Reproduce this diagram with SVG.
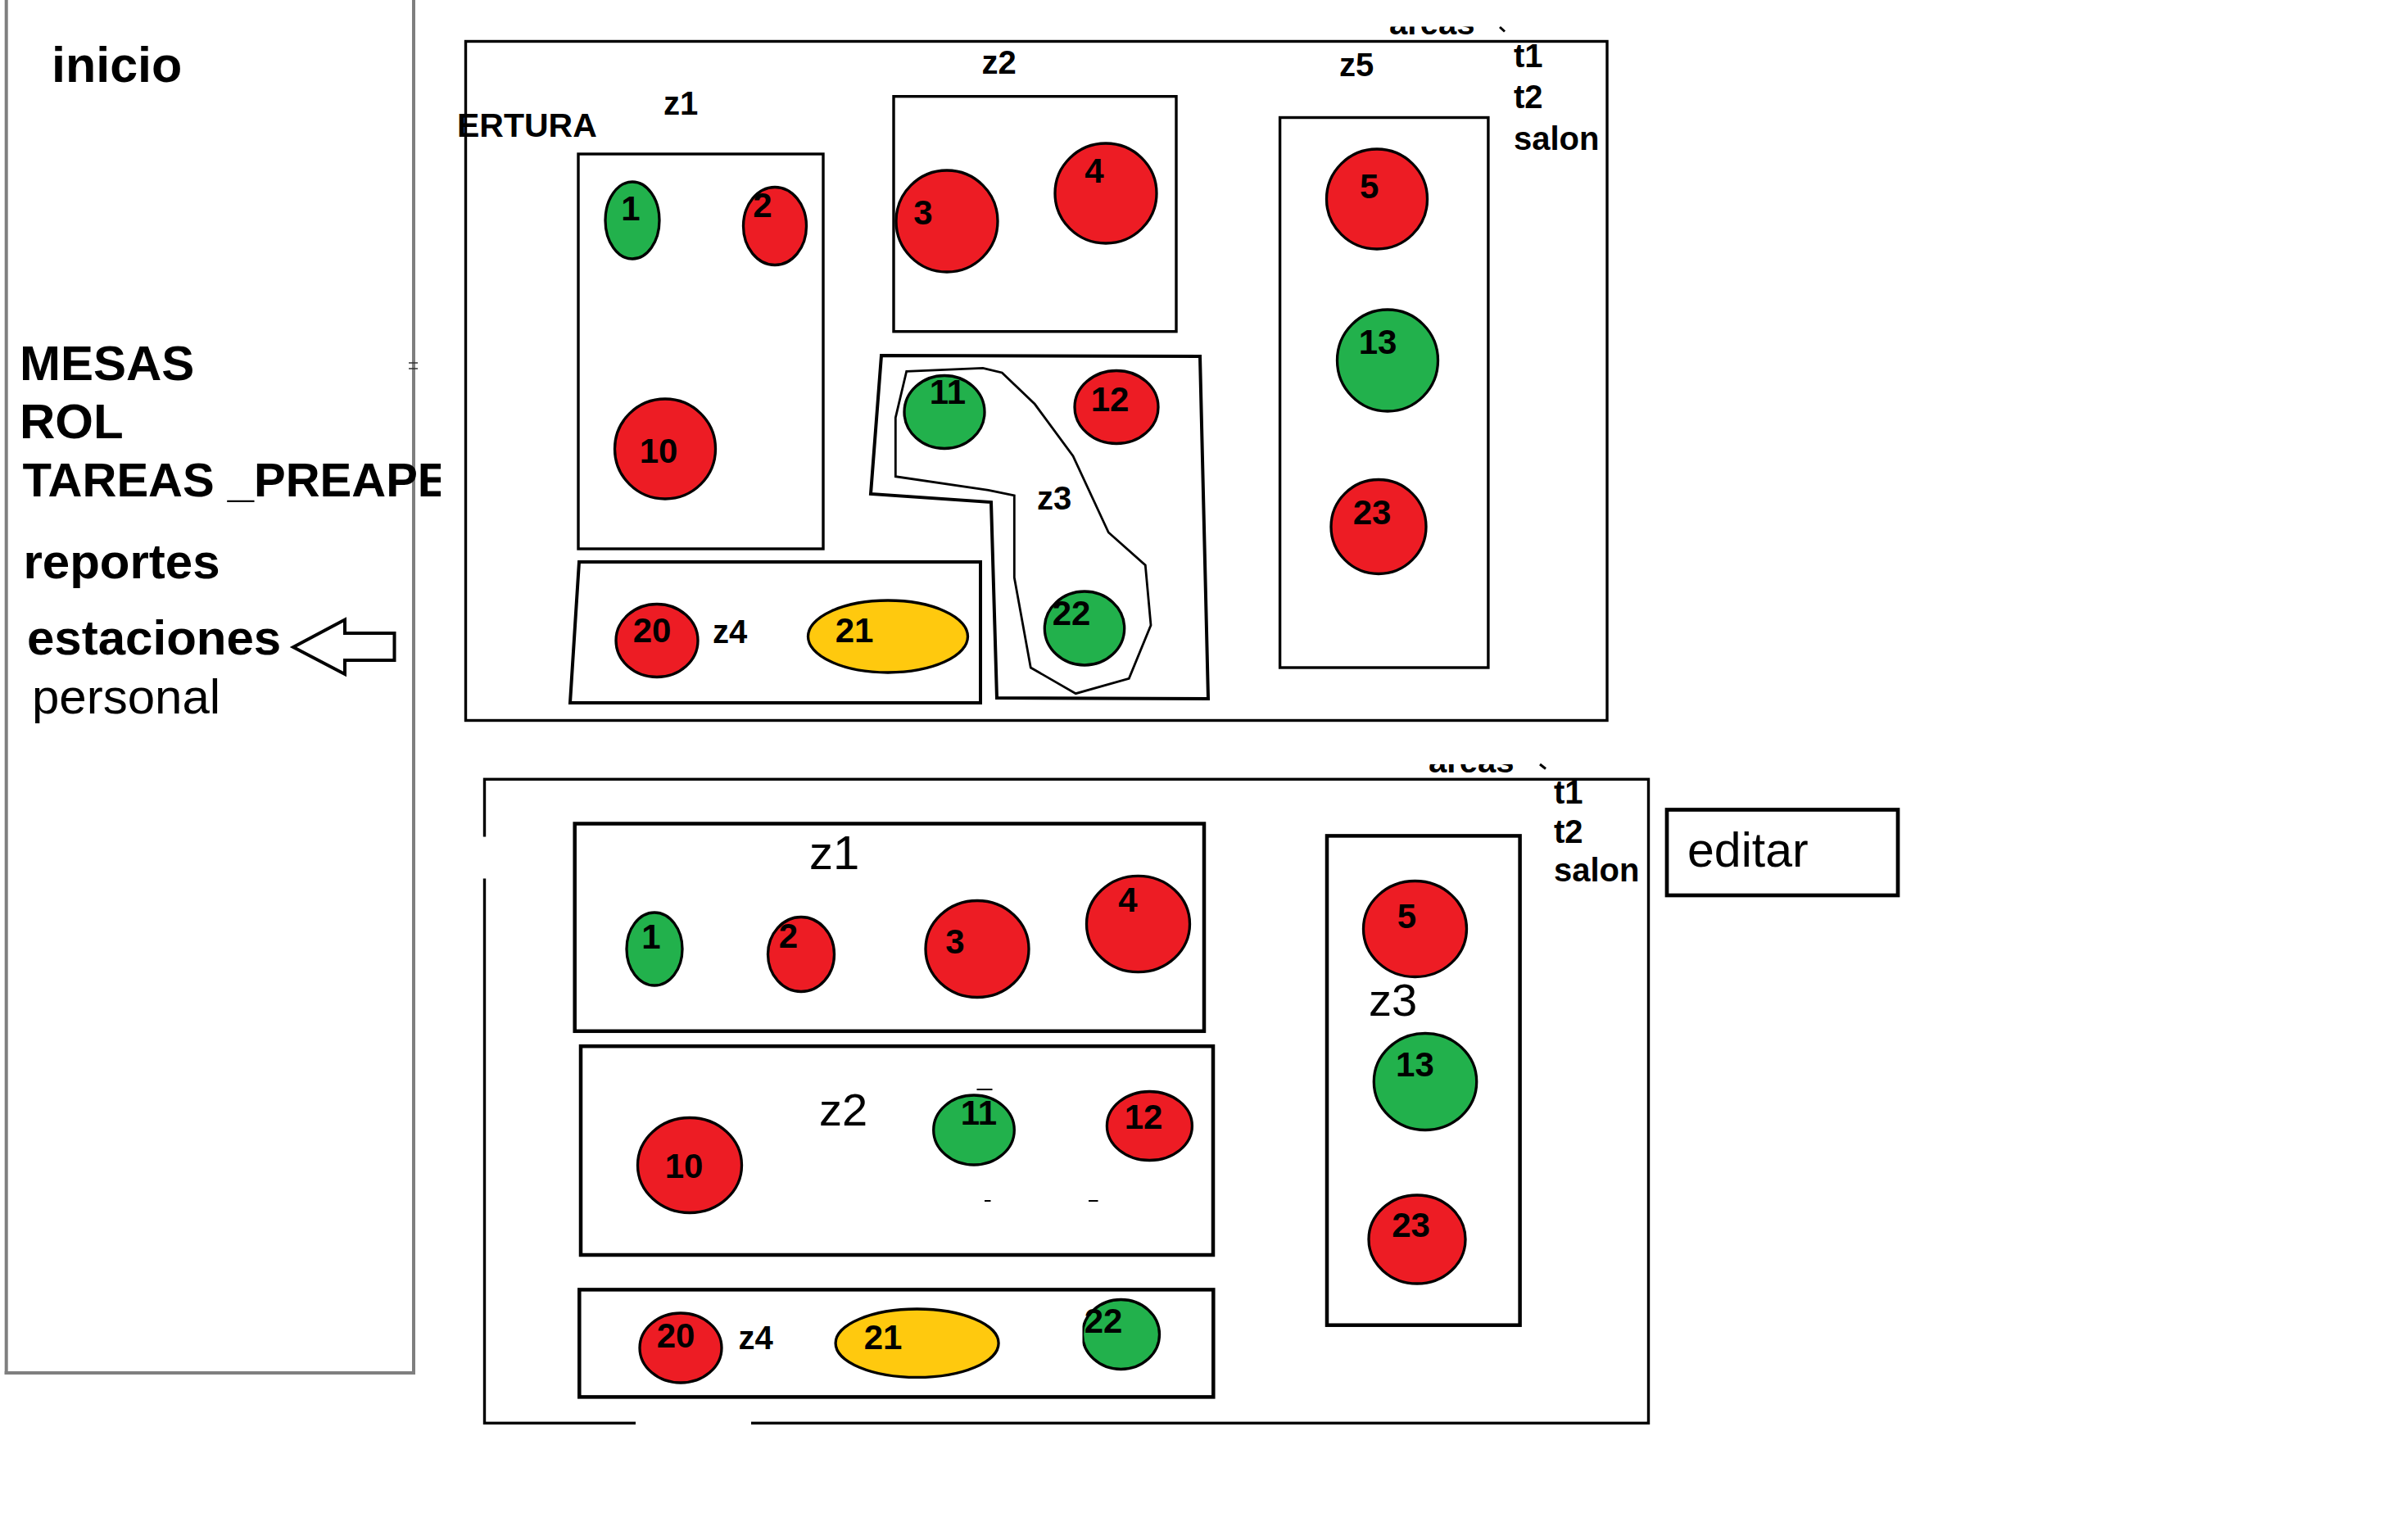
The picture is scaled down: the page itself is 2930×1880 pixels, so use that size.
<svg xmlns="http://www.w3.org/2000/svg" width="2930" height="1880" viewBox="0 0 2930 1880">
<style>
.bx{fill:none;stroke:#000;stroke-width:3.4}
.bb{fill:none;stroke:#000;stroke-width:4.5}
.r{fill:#ED1C24;stroke:#000;stroke-width:3.3}
.g{fill:#22B14C;stroke:#000;stroke-width:3.3}
.y{fill:#FFC90E;stroke:#000;stroke-width:3.3}
.t{font-family:"Liberation Sans",Arial,sans-serif;fill:#000}
.n{font-family:"Liberation Sans",Arial,sans-serif;font-weight:bold;font-size:42px;text-anchor:middle;fill:#000}
.zb{font-family:"Liberation Sans",Arial,sans-serif;font-weight:bold;font-size:40px;text-anchor:middle;fill:#000}
.zr{font-family:"Liberation Sans",Arial,sans-serif;fill:#000}
.m{font-family:"Liberation Sans",Arial,sans-serif;font-weight:bold;fill:#000}
.s{font-family:"Liberation Sans",Arial,sans-serif;font-weight:bold;fill:#000}
.gr{stroke:#7F7F7F;stroke-width:4;fill:none}
</style>
<defs>
<clipPath id="cTar"><rect x="0" y="0" width="538" height="1880"/></clipPath>
<clipPath id="cAT"><rect x="1600" y="32.5" width="300" height="40"/></clipPath>
<clipPath id="cAB"><rect x="1650" y="933" width="300" height="40"/></clipPath>
</defs>
<rect x="0" y="0" width="2930" height="1880" fill="#fff"/>

<g id="menu">
<line class="gr" x1="7.7" y1="0" x2="7.7" y2="1678"/>
<line class="gr" x1="505" y1="0" x2="505" y2="1678"/>
<line class="gr" x1="5.7" y1="1676" x2="507" y2="1676"/>
<line x1="499" y1="443" x2="510" y2="443" stroke="#333" stroke-width="1.5"/>
<line x1="499" y1="450" x2="510" y2="450" stroke="#333" stroke-width="1.5"/>
<text class="t" x="63" y="100" font-weight="bold" font-size="61">inicio</text>
<text class="m" x="24" y="464" font-size="60">MESAS</text>
<text class="m" x="24" y="535" font-size="60">ROL</text>
<text class="m" x="27.5" y="606" font-size="58" clip-path="url(#cTar)">TAREAS _PREAPE</text>
<text class="m" x="28.5" y="706" font-size="60">reportes</text>
<text class="m" x="33" y="799" font-size="60">estaciones</text>
<text class="t" x="39" y="871" font-size="60">personal</text>
</g>

<g id="connectors">
<polygon points="358,790 421,756.5 421,773 481.5,773 481.5,806 421,806 421,823" fill="#fff" stroke="#000" stroke-width="4" stroke-linejoin="miter"/>
</g>

<g id="plano-superior">
<rect class="bx" x="568.5" y="50.5" width="1393.5" height="829"/>
<text class="s" x="558" y="166.7" font-size="41">ERTURA</text>
<text class="s" x="1696" y="41.7" font-size="40" clip-path="url(#cAT)">areas</text>
<line x1="1831" y1="33" x2="1837" y2="38.5" stroke="#000" stroke-width="3"/>
<text class="s" x="1848" y="81.7" font-size="40">t1</text>
<text class="s" x="1848" y="131.7" font-size="40">t2</text>
<text class="s" x="1848" y="182.7" font-size="40">salon</text>
</g>

<g id="zona-z1-sup">
<rect class="bx" x="706" y="188" width="299" height="482"/>
<text class="zb" x="831" y="139.5">z1</text>
</g>
<g id="mesa-1-sup"><ellipse class="g" cx="772" cy="269" rx="33" ry="47"/><text class="n" x="770" y="269">1</text></g>
<g id="mesa-2-sup"><ellipse class="r" cx="946" cy="276" rx="38.5" ry="47.5"/><text class="n" x="931" y="265">2</text></g>
<g id="mesa-10-sup"><ellipse class="r" cx="812" cy="548" rx="61.5" ry="61"/><text class="n" x="804" y="565">10</text></g>

<g id="zona-z2-sup">
<rect class="bx" x="1091" y="117.7" width="345" height="287"/>
<text class="zb" x="1219.5" y="90">z2</text>
</g>
<g id="mesa-3-sup"><ellipse class="r" cx="1156" cy="270" rx="62" ry="62"/><text class="n" x="1127" y="274">3</text></g>
<g id="mesa-4-sup"><ellipse class="r" cx="1350" cy="236" rx="62" ry="61"/><text class="n" x="1336" y="223">4</text></g>

<g id="zona-z5-sup">
<rect class="bx" x="1562.6" y="143.5" width="254.3" height="671.5"/>
<text class="zb" x="1656" y="92.5">z5</text>
</g>
<g id="mesa-5-sup"><ellipse class="r" cx="1681" cy="243" rx="61.5" ry="61"/><text class="n" x="1671.7" y="241.7">5</text></g>
<g id="mesa-13-sup"><ellipse class="g" cx="1694" cy="440" rx="61.5" ry="62"/><text class="n" x="1682" y="432">13</text></g>
<g id="mesa-23-sup"><ellipse class="r" cx="1683" cy="643" rx="58" ry="57.5"/><text class="n" x="1675" y="640">23</text></g>

<g id="zona-z3-sup">
<polygon points="1076,434 1465,435 1475,853 1217,852 1210,613 1063,603" fill="none" stroke="#000" stroke-width="4"/>
<polygon points="1106.7,453.3 1200,449.3 1223.3,455 1263.3,493.3 1310,556.7 1353.3,650 1398.3,690 1405,763.3 1378.3,828.3 1313.3,846.7 1258.3,815 1238.3,705 1238.3,605 1206.7,598.3 1093.3,581.7 1093.3,510" fill="none" stroke="#000" stroke-width="2.8"/>
<text class="zb" x="1287" y="622">z3</text>
</g>
<g id="mesa-11-sup"><ellipse class="g" cx="1153" cy="503" rx="49" ry="44.5"/><text class="n" x="1157" y="493">11</text></g>
<g id="mesa-12-sup"><ellipse class="r" cx="1363" cy="497" rx="51" ry="44.5"/><text class="n" x="1355" y="502">12</text></g>
<g id="mesa-22-sup"><ellipse class="g" cx="1324" cy="767" rx="48.7" ry="45"/><text class="n" x="1308" y="763">22</text></g>

<g id="zona-z4-sup">
<polygon points="707,686 1197,686 1197,858 696,858" fill="none" stroke="#000" stroke-width="4"/>
<text class="zb" x="891" y="785">z4</text>
</g>
<g id="mesa-20-sup"><ellipse class="r" cx="802" cy="782" rx="50" ry="44.5"/><text class="n" x="796" y="784">20</text></g>
<g id="mesa-21-sup"><ellipse class="y" cx="1084" cy="777" rx="97.5" ry="44"/><text class="n" x="1043" y="784">21</text></g>

<g id="plano-inferior">
<rect class="bx" x="591.5" y="951.3" width="1421" height="786"/>
<line x1="591.5" y1="1021.5" x2="591.5" y2="1072.5" stroke="#fff" stroke-width="6"/>
<line x1="776" y1="1737.3" x2="917" y2="1737.3" stroke="#fff" stroke-width="5"/>
<text class="s" x="1744" y="942.7" font-size="40" clip-path="url(#cAB)">areas</text>
<line x1="1880" y1="933" x2="1887" y2="938.5" stroke="#000" stroke-width="3"/>
<text class="s" x="1897" y="981" font-size="40">t1</text>
<text class="s" x="1897" y="1029.3" font-size="40">t2</text>
<text class="s" x="1897" y="1076" font-size="40">salon</text>
</g>

<g id="boton-editar">
<rect x="2035" y="988.5" width="282" height="104.5" fill="none" stroke="#000" stroke-width="4.7"/>
<text class="t" x="2060" y="1058.3" font-size="59">editar</text>
</g>

<g id="zona-z1-inf">
<rect class="bb" x="701.7" y="1005.5" width="768.3" height="253.3"/>
<text class="zr" x="988" y="1061" font-size="58">z1</text>
</g>
<g id="mesa-1-inf"><ellipse class="g" cx="799" cy="1158.5" rx="34" ry="44.5"/><text class="n" x="795" y="1158">1</text></g>
<g id="mesa-2-inf"><ellipse class="r" cx="978" cy="1165" rx="40.5" ry="45.5"/><text class="n" x="962.5" y="1157">2</text></g>
<g id="mesa-3-inf"><ellipse class="r" cx="1193" cy="1158.5" rx="63" ry="59"/><text class="n" x="1166" y="1164">3</text></g>
<g id="mesa-4-inf"><ellipse class="r" cx="1389.5" cy="1128" rx="63" ry="58.7"/><text class="n" x="1377" y="1113">4</text></g>

<g id="zona-z2-inf">
<rect class="bb" x="709" y="1277.2" width="772" height="254.8"/>
<text class="zr" x="1000" y="1374.2" font-size="56">z2</text>
<line x1="1192.5" y1="1330" x2="1211.5" y2="1330" stroke="#000" stroke-width="2"/>
<line x1="1202" y1="1466" x2="1209.5" y2="1466" stroke="#000" stroke-width="2"/>
<line x1="1329" y1="1466" x2="1340.5" y2="1466" stroke="#000" stroke-width="2"/>
</g>
<g id="mesa-10-inf"><ellipse class="r" cx="842" cy="1422.5" rx="63.5" ry="58"/><text class="n" x="835" y="1438.4">10</text></g>
<g id="mesa-11-inf"><ellipse class="g" cx="1189" cy="1379.5" rx="49.3" ry="42.5"/><text class="n" x="1195" y="1372.6">11</text></g>
<g id="mesa-12-inf"><ellipse class="r" cx="1403.4" cy="1374.5" rx="52" ry="42"/><text class="n" x="1396" y="1378">12</text></g>

<g id="zona-z4-inf">
<rect class="bb" x="707.3" y="1574.4" width="774" height="131"/>
<text class="zb" x="922.6" y="1647">z4</text>
</g>
<g id="mesa-20-inf"><ellipse class="r" cx="831" cy="1645.5" rx="50" ry="42.5"/><text class="n" x="825" y="1645">20</text></g>
<g id="mesa-21-inf"><ellipse class="y" cx="1119.6" cy="1639.7" rx="99.5" ry="41.7"/><text class="n" x="1078" y="1647">21</text></g>
<g id="mesa-22-inf"><ellipse class="g" cx="1368.5" cy="1629" rx="47" ry="42.5"/><rect x="1315" y="1590" width="6.5" height="78" fill="#fff"/><text class="n" x="1347" y="1626.5">22</text></g>

<g id="zona-z3-inf">
<rect class="bb" x="1620" y="1020.4" width="235.6" height="597.3"/>
<text class="zr" x="1671" y="1239.8" font-size="56">z3</text>
</g>
<g id="mesa-5-inf"><ellipse class="r" cx="1727.5" cy="1134" rx="63" ry="58.5"/><text class="n" x="1717.5" y="1133.3">5</text></g>
<g id="mesa-13-inf"><ellipse class="g" cx="1740" cy="1320.5" rx="62.7" ry="59"/><text class="n" x="1727.4" y="1314">13</text></g>
<g id="mesa-23-inf"><ellipse class="r" cx="1730" cy="1513" rx="59" ry="54"/><text class="n" x="1722.6" y="1510">23</text></g>
</svg>
